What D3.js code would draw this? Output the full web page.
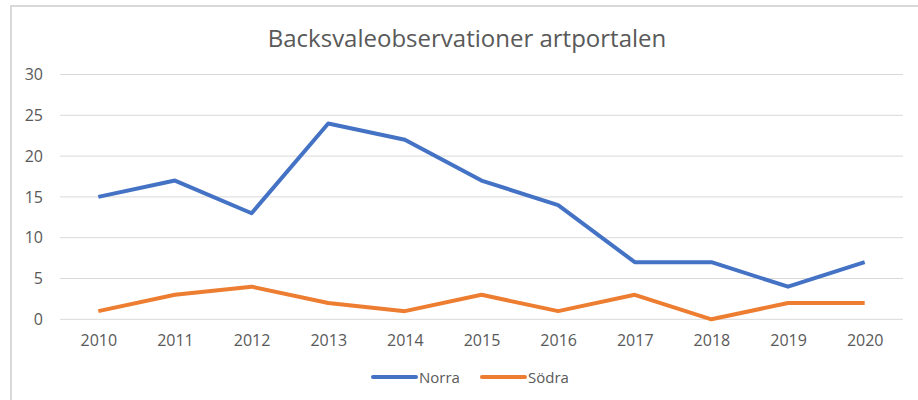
<!DOCTYPE html>
<html>
<head>
<meta charset="utf-8">
<script src="https://cdn.jsdelivr.net/npm/d3@7"></script>
<style>
  body { margin: 0; background: white; }
  text { font-family: "Open Sans", sans-serif; fill: #595959; }
</style>
</head>
<body>
<svg></svg>
<script>
const years = ['2010', '2011', '2012', '2013', '2014', '2015', '2016', '2017', '2018', '2019', '2020']
const norra = [15, 17, 13, 24, 22, 17, 14, 7, 7, 4, 7]
const sodra = [1, 3, 4, 2, 1, 3, 1, 3, 0, 2, 2]
const yTicks = [0, 5, 10, 15, 20, 25, 30]
const seriesNames = ['Norra', 'Södra']
const colors = ['#4472C4', '#ED7D31']

let svg = d3.select('svg')
let width = 918
let height = 400
svg.attr('width', width).attr('height', height)

// chart frame (runs past the right and bottom edge)
svg.append('rect')
    .attr('x', 11).attr('y', 6)
    .attr('width', 920).attr('height', 420)
    .attr('fill', 'white')
    .attr('stroke', '#d9d9d9')
    .attr('stroke-width', 2)

let plotLeft = 60
let plotRight = 903
let plotTop = 74.5
let plotBottom = 319.3

let xScale = d3.scalePoint()
    .domain(years)
    .range([plotLeft, plotRight])
    .padding(0.5)

let yScale = d3.scaleLinear()
    .domain([0, 30])
    .range([plotBottom, plotTop])

// gridlines
svg.append('g')
    .selectAll('line')
    .data(yTicks)
    .enter()
    .append('line')
    .attr('x1', plotLeft)
    .attr('x2', plotRight)
    .attr('y1', (d) => yScale(d))
    .attr('y2', (d) => yScale(d))
    .attr('stroke', '#d9d9d9')
    .attr('stroke-width', 1)

// y labels
let yAxis = d3.axisLeft(yScale).tickValues(yTicks).tickSize(0).tickPadding(0)
let yg = svg.append('g')
    .attr('transform', 'translate(43,0)')
    .call(yAxis)
yg.select('.domain').remove()
yg.selectAll('text').style('font-size', '16px').attr('fill', '#595959')

// x labels
let xAxis = d3.axisBottom(xScale).tickSize(0).tickPadding(0)
let xg = svg.append('g')
    .attr('transform', 'translate(0,335)')
    .call(xAxis)
xg.select('.domain').remove()
xg.selectAll('text').style('font-size', '16px').attr('fill', '#595959')

// lines
let line = d3.line()
    .x((d, i) => xScale(years[i]))
    .y((d) => yScale(d))

;[norra, sodra].forEach((values, i) => {
    svg.append('path')
        .datum(values)
        .attr('d', line)
        .attr('fill', 'none')
        .attr('stroke', colors[i])
        .attr('stroke-width', 4)
        .attr('stroke-linejoin', 'round')
})

// title
svg.append('text')
    .attr('x', 467)
    .attr('y', 47)
    .attr('text-anchor', 'middle')
    .style('font-size', '24px')
    .text('Backsvaleobservationer artportalen')

// legend
let legendX = [373, 482]
seriesNames.forEach((name, i) => {
    let g = svg.append('g').attr('transform', 'translate(' + legendX[i] + ',377)')
    g.append('line')
        .attr('x1', 0).attr('x2', 43)
        .attr('stroke', colors[i])
        .attr('stroke-width', 4)
        .attr('stroke-linecap', 'round')
    g.append('text')
        .attr('x', 46)
        .attr('y', 5.5)
        .style('font-size', '15px')
        .text(name)
})
</script>
</body>
</html>
